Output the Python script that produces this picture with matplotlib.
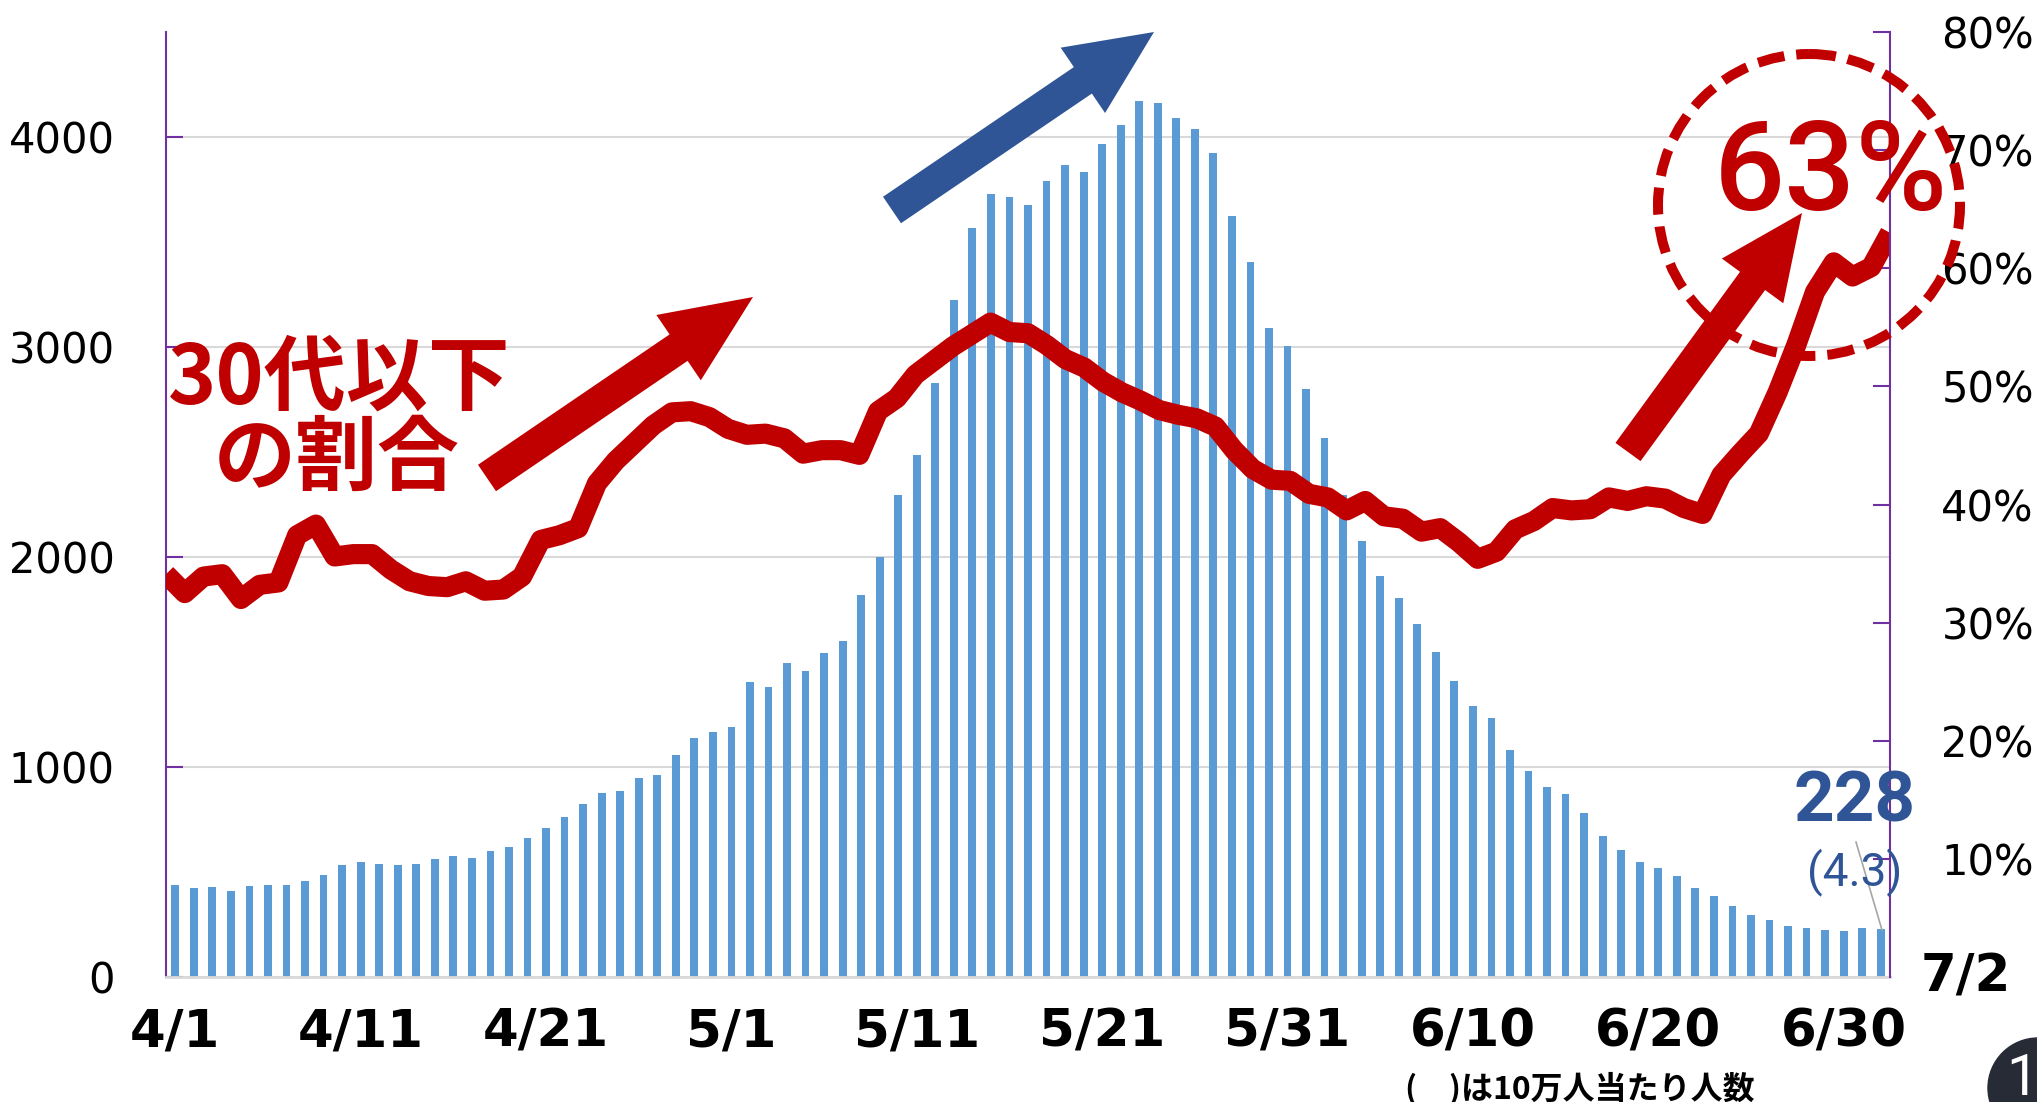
import numpy as np
import matplotlib
matplotlib.use('Agg')
import matplotlib.pyplot as plt
from matplotlib.patches import FancyArrow, Circle

# daily new cases, 4/1 .. 7/2
cases = [437, 425, 429, 408, 434, 440, 437, 458, 485, 534,
         550, 537, 534, 539, 563, 577, 569, 599, 618, 663,
         711, 763, 825, 876, 887, 949, 964, 1059, 1140, 1169,
         1189, 1404, 1380, 1493, 1455, 1541, 1601, 1818, 2000, 2294,
         2484, 2830, 3222, 3565, 3729, 3715, 3677, 3790, 3865, 3833,
         3968, 4058, 4170, 4164, 4092, 4037, 3925, 3625, 3406, 3092,
         3003, 2798, 2568, 2294, 2075, 1908, 1804, 1681, 1546, 1409,
         1290, 1232, 1081, 979, 906, 872, 780, 671, 603, 549,
         520, 482, 423, 384, 337, 293, 270, 244, 233, 226,
         218, 231, 228]

# share of cases aged 30s and under (%)
share = [34.1, 32.5, 33.9, 34.1, 32.0, 33.2, 33.4, 37.4, 38.3, 35.6,
         35.8, 35.8, 34.5, 33.5, 33.1, 33.0, 33.5, 32.7, 32.8, 33.9,
         37.0, 37.4, 38.0, 41.8, 43.7, 45.2, 46.7, 47.8, 47.9, 47.4,
         46.4, 45.9, 46.0, 45.6, 44.3, 44.6, 44.6, 44.2, 47.9, 49.0,
         51.0, 52.2, 53.4, 54.4, 55.4, 54.6, 54.5, 53.5, 52.3, 51.6,
         50.4, 49.5, 48.8, 48.0, 47.6, 47.3, 46.6, 44.6, 43.0, 42.1,
         42.0, 40.9, 40.6, 39.5, 40.3, 39.0, 38.8, 37.7, 38.0, 36.8,
         35.4, 36.0, 37.9, 38.6, 39.7, 39.5, 39.6, 40.6, 40.3, 40.7,
         40.5, 39.7, 39.2, 42.5, 44.3, 46.0, 49.5, 53.5, 58.0, 60.5,
         59.3, 60.1, 63.0]

tick_pos = [0, 10, 20, 30, 40, 50, 60, 70, 80, 90]
tick_labels = ['4/1', '4/11', '4/21', '5/1', '5/11', '5/21', '5/31', '6/10', '6/20', '6/30']
left_ticks = [0, 1000, 2000, 3000, 4000]
right_ticks = [10, 20, 30, 40, 50, 60, 70, 80]

CJK = ['Noto Sans CJK JP', 'DejaVu Sans']
RED = '#C00000'
BLUE = '#2F5597'
PURPLE = '#7030A0'

W, H = 2037, 1102
fig = plt.figure(figsize=(W / 100, H / 100), dpi=100)
pos = [166 / W, 1 - 977 / H, (1890 - 166) / W, (977 - 32) / H]

# bars
ax = fig.add_axes(pos)
x = np.arange(len(cases))
ax.bar(x, cases, width=0.42, color='#5B9BD5', zorder=2)
ax.set_xlim(-0.5, len(cases) - 0.5)
ax.set_ylim(0, 4500)
ax.set_yticks(left_ticks)
ax.yaxis.grid(True, color='#D9D9D9', lw=1.5)
ax.set_axisbelow(True)
ax.tick_params(axis='y', direction='in', length=12, width=1.5, color=PURPLE,
               pad=37, labelsize=30)
ax.set_xticks(tick_pos)
ax.set_xticklabels(tick_labels, fontsize=37, fontweight='bold')
ax.tick_params(axis='x', length=0, pad=22)
ax.spines['top'].set_visible(False)
ax.spines['right'].set_visible(False)
ax.spines['left'].set_color(PURPLE)
ax.spines['left'].set_linewidth(1.5)
ax.spines['bottom'].set_color('#D9D9D9')
ax.spines['bottom'].set_linewidth(2)

# line on its own axes, right scale
ax2 = fig.add_axes(pos)
ax2.patch.set_visible(False)
ax2.plot(np.arange(len(share)), share, color=RED, lw=14.5,
         solid_capstyle='butt', solid_joinstyle='round')
ax2.set_xlim(0, len(share) - 1)
ax2.set_ylim(0, 80)
ax2.set_xticks([])
ax2.yaxis.tick_right()
ax2.set_yticks(right_ticks)
ax2.set_yticklabels([f'{v}%' for v in right_ticks])
ax2.tick_params(axis='y', direction='in', length=12, width=1.5, color=PURPLE,
                pad=37, labelsize=30)
for s in ['top', 'left', 'bottom']:
    ax2.spines[s].set_visible(False)
ax2.spines['right'].set_color(PURPLE)
ax2.spines['right'].set_linewidth(1.5)

# overlay in pixel coordinates for the annotations
ov = fig.add_axes([0, 0, 1, 1])
ov.set_xlim(0, W)
ov.set_ylim(H, 0)
ov.axis('off')


def arrow(tail, tip, width, head_w, head_l, color):
    ov.add_patch(FancyArrow(tail[0], tail[1], tip[0] - tail[0], tip[1] - tail[1],
                            width=width, head_width=head_w, head_length=head_l,
                            length_includes_head=True, color=color, lw=0))


arrow((487, 478), (753, 297), 32, 79, 90, RED)
arrow((892, 210), (1154, 32), 32, 79, 86, BLUE)
arrow((1628, 452), (1802, 213), 31, 76, 84, RED)

ov.add_patch(Circle((1809, 205), 151, fill=False, ec=RED, lw=7.2,
                    ls=(0, (2.7, 1.2))))

ov.text(339, 380, '30代以下', ha='center', va='center', fontsize=59,
        fontweight='bold', color=RED, family=CJK)
ov.text(337, 460, 'の割合', ha='center', va='center', fontsize=59,
        fontweight='bold', color=RED, family=CJK)

ov.text(1714, 210, f'{share[-1]:.0f}%', ha='left', va='baseline', fontsize=90,
        fontweight='medium', color=RED, family='Roboto')

ov.text(1855, 821, f'{cases[-1]}', ha='center', va='baseline', fontsize=51,
        fontweight='bold', color=BLUE, family='Roboto')
ov.text(1855, 885, '(4.3)', ha='center', va='baseline', fontsize=33,
        color=BLUE, family='Roboto')
ov.plot([1856, 1882], [842, 930], color='#A6A6A6', lw=1.2)

ov.text(1966, 992, '7/2', ha='center', va='baseline', fontsize=37,
        fontweight='bold')
ov.text(1405, 1099, '(\u3000)は10万人当たり人数', ha='left', va='baseline',
        fontsize=23, fontweight='bold', family=CJK)

ov.add_patch(Circle((2038, 1088), 50, color='#262B35'))
ov.text(2038, 1095, '12', ha='center', va='baseline', fontsize=41,
        color='white', family='Roboto')

fig.savefig('out.png', dpi=100)
